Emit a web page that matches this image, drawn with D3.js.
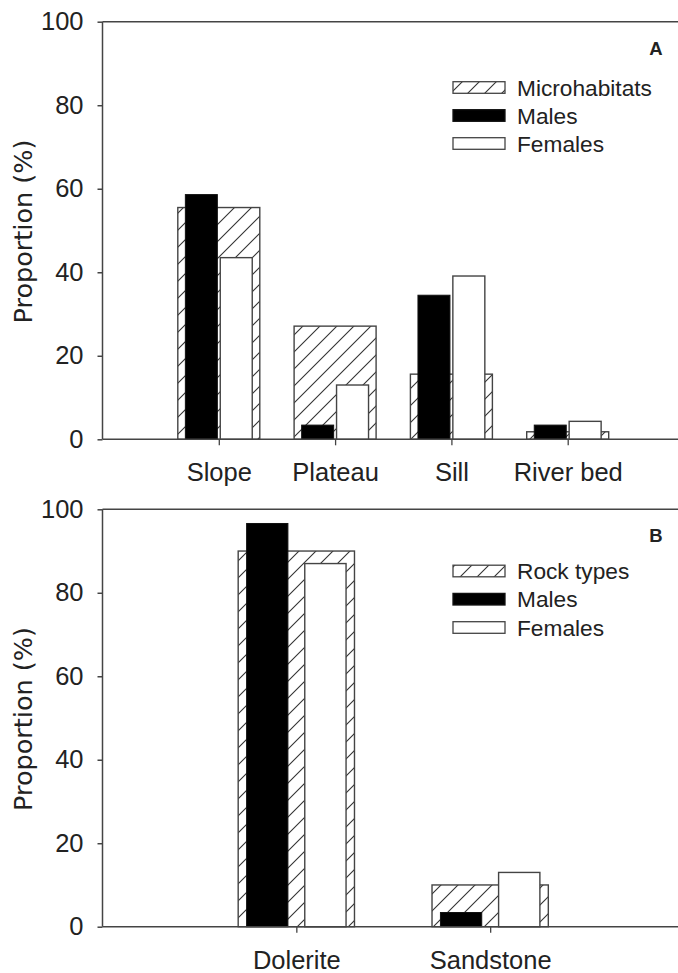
<!DOCTYPE html>
<html>
<head>
<meta charset="utf-8">
<script src="https://cdn.jsdelivr.net/npm/d3@7"></script>
<style>
  body { margin: 0; background: #fff; }
  svg { display: block; }
</style>
</head>
<body>
<svg id="chart" width="678" height="973"></svg>
<script>
// Panel A: microhabitats
const categoriesA = ["Slope", "Plateau", "Sill", "River bed"];
const microhabitats = [55.5, 27.1, 15.6, 1.8];
const malesA = [58.6, 3.4, 34.5, 3.4];
const femalesA = [43.5, 13.0, 39.1, 4.3];
const legendA = ["Microhabitats", "Males", "Females"];

// Panel B: rock types
const categoriesB = ["Dolerite", "Sandstone"];
const rockTypes = [90.0, 10.0];
const malesB = [96.6, 3.4];
const femalesB = [87.0, 13.0];
const legendB = ["Rock types", "Males", "Females"];

const yTicks = [0, 20, 40, 60, 80, 100];

const svg = d3.select("#chart");
const ink = "#222";
const lineCol = "#444";

// diagonal hatch used for the background series
const pat = svg.append("defs").append("pattern")
  .attr("id", "hatch")
  .attr("patternUnits", "userSpaceOnUse")
  .attr("width", 17)
  .attr("height", 17);
pat.append("rect").attr("width", 17).attr("height", 17).attr("fill", "#fff");
pat.append("path")
  .attr("d", "M0,17 L17,0 M-3,3 L3,-3 M14,20 L20,14")
  .attr("stroke", "#333")
  .attr("stroke-width", 1.1);

const drawPanel = (p) => {
  const g = svg.append("g");
  const n = p.categories.length;

  const x = d3.scaleLinear()
    .domain([0, n + 1])
    .range([102.5, 684]);

  const y = d3.scaleLinear()
    .domain([0, 100])
    .range([p.bottom, p.top]);

  const step = x(1) - x(0);
  const idx = d3.range(n);

  // background (hatched) bars
  g.selectAll(".bg")
    .data(idx)
    .enter()
    .append("rect")
    .attr("x", i => x(i + 1) - p.bgW * step / 2)
    .attr("y", i => y(p.background[i]))
    .attr("width", p.bgW * step)
    .attr("height", i => y(0) - y(p.background[i]))
    .attr("fill", "url(#hatch)")
    .attr("stroke", lineCol)
    .attr("stroke-width", 1.4);

  // males (black)
  g.selectAll(".male")
    .data(idx)
    .enter()
    .append("rect")
    .attr("x", i => x(i + 1) - p.off * step - p.barW * step / 2)
    .attr("y", i => y(p.males[i]))
    .attr("width", p.barW * step)
    .attr("height", i => y(0) - y(p.males[i]))
    .attr("fill", "#000")
    .attr("stroke", "#111")
    .attr("stroke-width", 1);

  // females (white)
  g.selectAll(".female")
    .data(idx)
    .enter()
    .append("rect")
    .attr("x", i => x(i + 1) + p.off * step - p.barW * step / 2)
    .attr("y", i => y(p.females[i]))
    .attr("width", p.barW * step)
    .attr("height", i => y(0) - y(p.females[i]))
    .attr("fill", "#fff")
    .attr("stroke", lineCol)
    .attr("stroke-width", 1.4);

  // frame lines: left, top, bottom
  g.append("line")
    .attr("x1", x(0)).attr("x2", x(0))
    .attr("y1", y(100)).attr("y2", y(0))
    .attr("stroke", lineCol).attr("stroke-width", 1.5);
  g.append("line")
    .attr("x1", x(0)).attr("x2", x(n + 1))
    .attr("y1", y(100)).attr("y2", y(100))
    .attr("stroke", lineCol).attr("stroke-width", 1.5);
  g.append("line")
    .attr("x1", x(0)).attr("x2", x(n + 1))
    .attr("y1", y(0)).attr("y2", y(0))
    .attr("stroke", lineCol).attr("stroke-width", 1.5);

  // y axis
  const yAxis = g.append("g")
    .attr("transform", `translate(${x(0)},0)`)
    .call(d3.axisLeft(y).tickValues(yTicks).tickSize(5).tickPadding(14));
  yAxis.select(".domain").remove();
  yAxis.selectAll("line").attr("stroke", lineCol).attr("stroke-width", 1.5);
  yAxis.selectAll("text")
    .attr("font-family", "Liberation Sans, Arial, sans-serif")
    .attr("font-size", 25.5)
    .attr("fill", ink);

  // x axis
  const xAxis = g.append("g")
    .attr("transform", `translate(0,${y(0)})`)
    .call(d3.axisBottom(x)
      .tickValues(idx.map(i => i + 1))
      .tickFormat(v => p.categories[v - 1])
      .tickSize(6)
      .tickPadding(18));
  xAxis.select(".domain").remove();
  xAxis.selectAll("line").attr("stroke", lineCol).attr("stroke-width", 1.3);
  xAxis.selectAll("text")
    .attr("font-family", "Liberation Sans, Arial, sans-serif")
    .attr("font-size", 25.5)
    .attr("fill", ink);

  // y axis title
  g.append("text")
    .attr("transform", `translate(31.5,${(y(0) + y(100)) / 2 + 1}) rotate(-90)`)
    .attr("text-anchor", "middle")
    .attr("font-family", "DejaVu Sans, sans-serif")
    .attr("font-size", 25.5)
    .attr("fill", ink)
    .text("Proportion (%)");

  // panel letter
  g.append("text")
    .attr("x", 656)
    .attr("y", y(100) + 33)
    .attr("text-anchor", "middle")
    .attr("font-family", "Liberation Sans, Arial, sans-serif")
    .attr("font-weight", "bold")
    .attr("font-size", 18.5)
    .attr("fill", ink)
    .text(p.letter);

  // legend
  const fills = ["url(#hatch)", "#000", "#fff"];
  const legend = g.append("g");
  p.legend.forEach((label, k) => {
    const cy = p.legendY[k];
    legend.append("rect")
      .attr("x", 453)
      .attr("y", cy - 5.8)
      .attr("width", 52)
      .attr("height", 11.6)
      .attr("fill", fills[k])
      .attr("stroke", k === 1 ? "#111" : lineCol)
      .attr("stroke-width", 1.3);
    legend.append("text")
      .attr("x", 517)
      .attr("y", cy)
      .attr("dy", "0.36em")
      .attr("font-family", "Liberation Sans, Arial, sans-serif")
      .attr("font-size", 22.7)
      .attr("fill", ink)
      .text(label);
  });
};

drawPanel({
  letter: "A",
  top: 21.7,
  bottom: 439.3,
  categories: categoriesA,
  background: microhabitats,
  males: malesA,
  females: femalesA,
  legend: legendA,
  legendY: [87.5, 115.5, 143.5],
  bgW: 0.705,
  barW: 0.275,
  off: 0.15
});

drawPanel({
  letter: "B",
  top: 509.3,
  bottom: 926.7,
  categories: categoriesB,
  background: rockTypes,
  males: malesB,
  females: femalesB,
  legend: legendB,
  legendY: [571, 599.2, 627.5],
  bgW: 0.6,
  barW: 0.213,
  off: 0.15
});
</script>
</body>
</html>
